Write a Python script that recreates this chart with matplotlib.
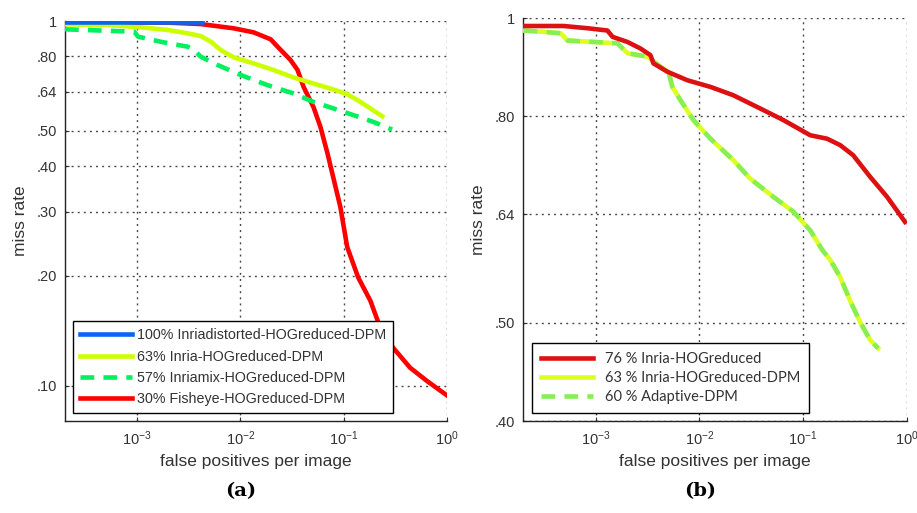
import matplotlib
matplotlib.use("Agg")
import matplotlib.pyplot as plt
import numpy as np

# ---- panel (a) data: false positives per image vs miss rate ----
blue_fppi = [2.0e-4, 1.0e-3, 4.2e-3]
blue_mr = [0.995, 0.995, 0.995]

yg_fppi = [2.0e-4, 5.25e-4, 1.09e-3, 1.99e-3, 3.1e-3, 4.14e-3, 5.18e-3, 6.46e-3, 8.6e-3,
           1.34e-2, 2.09e-2, 3.27e-2, 5.09e-2, 7.94e-2, 0.108, 0.145, 0.193, 0.236]
yg_mr = [0.979, 0.975, 0.961, 0.945, 0.925, 0.909, 0.877, 0.832, 0.795,
         0.765, 0.734, 0.700, 0.674, 0.649, 0.630, 0.600, 0.569, 0.548]

gr_fppi = [2.0e-4, 9.35e-4, 1.02e-3, 1.70e-3, 3.1e-3, 3.55e-3, 4.14e-3, 6.04e-3, 1.01e-2,
           1.83e-2, 3.27e-2, 5.09e-2, 7.94e-2, 0.124, 0.193, 0.294]
gr_mr = [0.949, 0.935, 0.906, 0.877, 0.850, 0.832, 0.798, 0.757, 0.711,
         0.667, 0.633, 0.600, 0.576, 0.552, 0.529, 0.504]

rd_fppi = [2.0e-4, 1.99e-3, 4.14e-3, 8.6e-3, 1.34e-2, 1.96e-2, 2.29e-2, 3.05e-2, 3.57e-2,
           4.08e-2, 5.09e-2, 5.95e-2, 6.95e-2, 7.94e-2, 9.27e-2, 0.108, 0.138, 0.181,
           0.226, 0.301, 0.439, 0.640, 1.0]
rd_mr = [0.99, 0.99, 0.981, 0.955, 0.931, 0.891, 0.850, 0.782, 0.734,
         0.660, 0.581, 0.512, 0.434, 0.371, 0.309, 0.240, 0.198, 0.171,
         0.144, 0.127, 0.112, 0.103, 0.094]

labels_a = ['100% Inriadistorted-HOGreduced-DPM', '63% Inria-HOGreduced-DPM',
            '57% Inriamix-HOGreduced-DPM', '30% Fisheye-HOGreduced-DPM']

# ---- panel (b) data ----
rb_fppi = [2.03e-4, 4.92e-4, 8.38e-4, 1.30e-3, 1.46e-3, 2.03e-3, 2.71e-3, 3.38e-3, 3.61e-3,
           4.92e-3, 7.67e-3, 1.28e-2, 2.12e-2, 3.86e-2, 6.43e-2, 0.117, 0.170, 0.227,
           0.303, 0.441, 0.642, 0.957]
rb_mr = [0.982, 0.982, 0.977, 0.972, 0.958, 0.947, 0.933, 0.919, 0.902,
         0.885, 0.868, 0.855, 0.839, 0.814, 0.793, 0.766, 0.760, 0.749,
         0.732, 0.697, 0.666, 0.629]

gb_fppi = [2.03e-4, 3.16e-4, 4.60e-4, 5.38e-4, 9.57e-4, 1.63e-3, 2.03e-3, 3.16e-3, 4.22e-3,
           5.04e-3, 5.50e-3, 6.56e-3, 8.75e-3, 1.28e-2, 2.12e-2, 3.09e-2, 5.15e-2, 8.02e-2,
           0.117, 0.153, 0.182, 0.227, 0.283, 0.353, 0.441, 0.526]
gb_mr = [0.972, 0.969, 0.966, 0.950, 0.947, 0.944, 0.923, 0.916, 0.895,
         0.885, 0.855, 0.830, 0.793, 0.760, 0.724, 0.694, 0.666, 0.644,
         0.617, 0.590, 0.577, 0.555, 0.526, 0.501, 0.481, 0.472]

labels_b = ['76 % Inria-HOGreduced', '63 % Inria-HOGreduced-DPM', '60 % Adaptive-DPM']

xticks = [1e-3, 1e-2, 1e-1, 1]
xticklabels = [r'$10^{-3}$', r'$10^{-2}$', r'$10^{-1}$', r'$10^{0}$']
yticks_a = [0.1, 0.2, 0.3, 0.4, 0.5, 0.64, 0.8, 1]
yticklabels_a = ['.10', '.20', '.30', '.40', '.50', '.64', '.80', '1']
yticks_b = [0.4, 0.5, 0.64, 0.8, 1]
yticklabels_b = ['.40', '.50', '.64', '.80', '1']

plt.rcParams['font.family'] = ['Liberation Sans', 'DejaVu Sans']
plt.rcParams['mathtext.fontset'] = 'custom'
plt.rcParams['mathtext.rm'] = 'Liberation Sans'
plt.rcParams['mathtext.it'] = 'Liberation Sans'
plt.rcParams['mathtext.default'] = 'regular'

fig = plt.figure(figsize=(9.17, 5.13), dpi=100)
ax1 = fig.add_axes([0.0709, 0.1793, 0.4166, 0.7797])
ax2 = fig.add_axes([0.5703, 0.1793, 0.4188, 0.7856])

txtc = '#333333'


def style(ax, yt, ytl, ylim):
    ax.set_xscale('log')
    ax.set_yscale('log')
    ax.set_xlim(2e-4, 1)
    ax.set_ylim(*ylim)
    ax.set_xticks(xticks)
    ax.set_xticklabels(xticklabels)
    ax.set_yticks(yt)
    ax.set_yticklabels(ytl)
    ax.minorticks_off()
    ax.grid(True, which='major', linestyle=(0, (1.4, 3.0)), color='#444444', linewidth=1.0)
    ax.tick_params(direction='in', length=3, labelsize=10.5, colors=txtc, pad=6)
    for s in ['top', 'right']:
        ax.spines[s].set_visible(False)
    for s in ['left', 'bottom']:
        ax.spines[s].set_linewidth(1.0)
        ax.spines[s].set_color('#222222')
    ax.set_xlabel('false positives per image', fontsize=12.5, color=txtc, labelpad=4)
    ax.set_ylabel('miss rate', fontsize=12.5, color=txtc, labelpad=6)


lw = 3.3
ax1.plot(rd_fppi, rd_mr, color='#ff0000', lw=lw, label=labels_a[3], zorder=3)
ax1.plot(blue_fppi, blue_mr, color='#0a64f5', lw=lw, label=labels_a[0], zorder=4)
ax1.plot(yg_fppi, yg_mr, color='#ccff00', lw=lw, label=labels_a[1], zorder=3)
ax1.plot(gr_fppi, gr_mr, color='#00f060', lw=lw, ls=(0, (3, 2)), label=labels_a[2], zorder=3)
style(ax1, yticks_a, yticklabels_a, (0.08, 1))
h, l = ax1.get_legend_handles_labels()
order = [1, 2, 3, 0]
leg1 = ax1.legend([h[i] for i in order], [l[i] for i in order], loc='lower left',
                  bbox_to_anchor=(0.021, 0.02), borderaxespad=0, fontsize=10.3,
                  handlelength=3.6, handletextpad=0.35, fancybox=False, framealpha=1,
                  edgecolor='black', labelspacing=0.5, borderpad=0.5)
leg1.get_frame().set_linewidth(1.0)
for t in leg1.get_texts():
    t.set_color(txtc)

ax2.plot(gb_fppi, gb_mr, color='#ddff22', lw=lw, label=labels_b[1], zorder=3)
ax2.plot(gb_fppi, gb_mr, color='#88ee55', lw=lw, ls=(0, (3, 2)), label=labels_b[2], zorder=3)
ax2.plot(rb_fppi, rb_mr, color='#dd1111', lw=lw, label=labels_b[0], zorder=4)
style(ax2, yticks_b, yticklabels_b, (0.4, 1))
h, l = ax2.get_legend_handles_labels()
order = [2, 0, 1]
leg2 = ax2.legend([h[i] for i in order], [l[i] for i in order], loc='lower left',
                  bbox_to_anchor=(0.023, 0.02), borderaxespad=0,
                  prop={'family': ['Lato', 'DejaVu Sans'], 'size': 10.5},
                  handlelength=3.6, handletextpad=0.8, fancybox=False, framealpha=1,
                  edgecolor='black', labelspacing=0.35, borderpad=0.6)
leg2.get_frame().set_linewidth(1.0)
for t in leg2.get_texts():
    t.set_color(txtc)

fig.text(0.262, 0.025, '(a)', fontsize=14, fontweight='bold', family='DejaVu Serif',
         ha='center', va='bottom')
fig.text(0.763, 0.025, '(b)', fontsize=14, fontweight='bold', family='DejaVu Serif',
         ha='center', va='bottom')

fig.savefig('out.png', dpi=100)
